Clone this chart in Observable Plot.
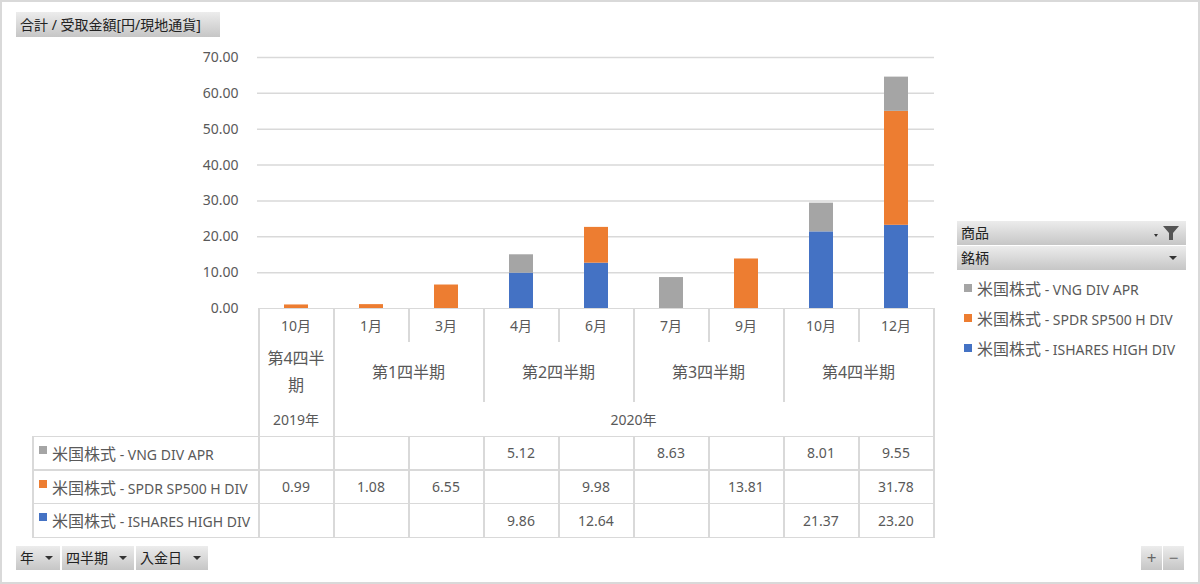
<!DOCTYPE html>
<html><head><meta charset="utf-8">
<script src="https://cdn.jsdelivr.net/npm/d3@7"></script>
<script src="https://cdn.jsdelivr.net/npm/@observablehq/plot@0.6"></script>
<style>
body{margin:0;background:#fff;}
#wrap{position:relative;width:1200px;height:584px;box-sizing:border-box;box-shadow:inset 0 0 0 2px #d9d9d9;font-family:"Noto Sans","Noto Sans CJK JP",sans-serif;color:#595959;overflow:hidden;background:#fff}
#wrap svg{position:absolute;left:0;top:0}
.btn{position:absolute;background:linear-gradient(#ececec,#c6c6c6);color:#222;font-size:14px;line-height:24px;height:24px;box-sizing:border-box;padding-left:4px;white-space:nowrap}
.arr{position:absolute;top:10px;width:0;height:0;border-left:4px solid transparent;border-right:4px solid transparent;border-top:4px solid #333}
.ln{position:absolute;background:#d9d9d9}
.cell{position:absolute;display:flex;align-items:center;justify-content:center;text-align:center;font-size:14px;line-height:27px;box-sizing:border-box;padding:0 7px}
.cell > div{line-break:anywhere;word-break:break-all;max-width:100%}
.cell.q{font-size:16px}
.rl{position:absolute;font-size:14px;white-space:nowrap;display:flex;align-items:center}
.sw{display:inline-block;width:8px;height:8px;margin-right:5px;flex:none}
.cj{font-size:16px}
</style></head>
<body><div id="wrap"></div>
<script>
// ---- data ----
const keys = ["2019-10","2020-01","2020-03","2020-04","2020-06","2020-07","2020-09","2020-10","2020-12"];
const months = ["10月","1月","3月","4月","6月","7月","9月","10月","12月"];
const quarterLabels = ["第4四半期","第1四半期","第2四半期","第3四半期","第4四半期"];
const quarterOf = [0,1,1,2,2,3,3,4,4];
const yearLabels = ["2019年","2020年"];
const yearOf = [0,1,1,1,1,1,1,1,1];
const seriesNames = ["米国株式 - VNG DIV APR","米国株式 - SPDR SP500 H DIV","米国株式 - ISHARES HIGH DIV"];
const seriesColors = ["#a5a5a5","#ed7d31","#4472c4"];
const vng     = [null,null,null,5.12,null,8.63,null,8.01,9.55];
const spdr    = [0.99,1.08,6.55,null,9.98,null,13.81,null,31.78];
const ishares = [null,null,null,9.86,12.64,null,null,21.37,23.20];
const yTicks = [10,20,30,40,50,60,70];
const tableTitle = "合計 / 受取金額[円/現地通貨]";
const filterLabels = ["年","四半期","入金日"];

const seriesValues = [vng, spdr, ishares];
// stack order bottom -> top: ISHARES, SPDR, VNG
const data = [];
[2,1,0].forEach(s => seriesValues[s].forEach((v,i) => { if (v != null) data.push({key: keys[i], series: seriesNames[s], value: v}); }));

const W = 1200, H = 584;
const padI = 0.68;
const chart = Plot.plot({
  width: W, height: H,
  marginLeft: 257, marginRight: 266, marginTop: 57, marginBottom: 276,
  style: {fontFamily: '"Noto Sans","Noto Sans CJK JP",sans-serif', fontSize: "14px", color: "#595959", background: "transparent", overflow: "visible"},
  x: {domain: keys, paddingInner: padI, paddingOuter: padI/2, axis: null},
  y: {domain: [0,70], ticks: 7, tickFormat: d => d.toFixed(2), tickSize: 0, tickPadding: 19, label: null},
  color: {domain: seriesNames, range: seriesColors},
  marks: [
    Plot.ruleY(yTicks, {stroke: "#d9d9d9", strokeWidth: 1.5}),
    Plot.barY(data, {x: "key", y: "value", fill: "series"})
  ]
});
const wrap = document.getElementById("wrap");
wrap.appendChild(chart);

const xs = chart.scale("x");
const ysc = chart.scale("y");
const step = xs.apply(keys[1]) - xs.apply(keys[0]);
const bw = xs.bandwidth != null ? xs.bandwidth : step * (1 - padI);
const off = (step - bw) / 2;
const edge = i => i < keys.length ? xs.apply(keys[i]) - off : xs.apply(keys[keys.length-1]) - off + step;
const y0 = ysc.apply(0);

const cjk = s => s.replace(/([\u3000-\u9fff\uff00-\uffef]+)/g, '<span class="cj">$1</span>');
function el(cls, css, html) {
  const d = document.createElement("div");
  d.className = cls;
  Object.assign(d.style, css);
  if (html != null) d.innerHTML = html;
  wrap.appendChild(d);
  return d;
}
const px = v => v + "px";
const cellHtml = h => `<div>${h}</div>`;
// row geometry
const monthBot = y0 + 34, quarterBot = monthBot + 60, yearBot = quarterBot + 34, rowH = 33.7;
const tableLeft = 32;
const xL = edge(0), xR = edge(keys.length);

// horizontal lines
el("ln", {left: px(xL), top: px(y0 - 0.5), width: px(xR - xL), height: "1.5px"});
for (let r = 0; r <= 3; r++) el("ln", {left: px(tableLeft), top: px(yearBot + r*rowH - 0.5), width: px(xR - tableLeft + 1), height: "1.5px"});
// vertical lines
el("ln", {left: px(tableLeft), top: px(yearBot), width: "1.5px", height: px(3*rowH)});
el("ln", {left: px(xL - 0.5), top: px(y0), width: "1.5px", height: px(yearBot + 3*rowH - y0)});
el("ln", {left: px(xR - 0.5), top: px(y0), width: "1.5px", height: px(yearBot + 3*rowH - y0)});
for (let i = 1; i < keys.length; i++) {
  const bot = yearOf[i] !== yearOf[i-1] ? yearBot + 3*rowH : quarterOf[i] !== quarterOf[i-1] ? quarterBot : monthBot;
  el("ln", {left: px(edge(i) - 0.5), top: px(y0), width: "1.5px", height: px(bot - y0)});
  el("ln", {left: px(edge(i) - 0.5), top: px(yearBot), width: "1.5px", height: px(3*rowH)});
}
// month labels
months.forEach((m, i) => el("cell", {left: px(edge(i)), top: px(y0), width: px(step), height: px(monthBot - y0)}, cellHtml(m)));
// quarter labels
quarterLabels.forEach((q, qi) => {
  const idx = quarterOf.map((v,i) => v === qi ? i : -1).filter(i => i >= 0);
  const a = edge(idx[0]), b = edge(idx[idx.length-1] + 1);
  el("cell q", {left: px(a), top: px(monthBot), width: px(b - a), height: px(quarterBot - monthBot)}, cellHtml(q));
});
// year labels
yearLabels.forEach((yl, yi) => {
  const idx = yearOf.map((v,i) => v === yi ? i : -1).filter(i => i >= 0);
  const a = edge(idx[0]), b = edge(idx[idx.length-1] + 1);
  el("cell", {left: px(a), top: px(quarterBot), width: px(b - a), height: px(yearBot - quarterBot)}, cellHtml(yl));
});
// data table rows
seriesNames.forEach((name, s) => {
  const top = yearBot + s*rowH;
  el("rl", {left: px(tableLeft + 7), top: px(top), height: px(rowH)}, `<span class="sw" style="background:${seriesColors[s]};margin-top:-6px"></span><span>${cjk(name)}</span>`);
  seriesValues[s].forEach((v, i) => {
    if (v != null) el("cell", {left: px(edge(i)), top: px(top), width: px(step), height: px(rowH)}, cellHtml(v.toFixed(2)));
  });
});

// title button
el("btn", {left: "16px", top: "12px", width: "204px", height: "25px", lineHeight: "25px"}, tableTitle);
// bottom filter buttons
const fb = [[16,44],[62,72],[136,72]];
filterLabels.forEach((t, i) => {
  const b = el("btn", {left: px(fb[i][0]), top: "546px", width: px(fb[i][1])}, t);
  const a = document.createElement("div"); a.className = "arr"; a.style.left = px(fb[i][1] - 15); b.appendChild(a);
});
// + - buttons
el("btn", {left: "1141px", top: "546px", width: "21px", padding: "0", textAlign: "center", color: "#666", fontSize: "17px"}, "+");
el("btn", {left: "1163px", top: "546px", width: "21px", padding: "0", textAlign: "center", color: "#666", fontSize: "17px"}, "−");
// right legend panel
const p1 = el("btn", {left: "957px", top: "221px", width: "229px"}, "商品");
p1.insertAdjacentHTML("beforeend", '<div class="arr" style="left:197px;top:13px;border-width:3px 2.5px 0 2.5px"></div><svg style="position:absolute;left:205px;top:4px" width="18" height="16"><polygon points="1,1 17,1 11,8 11,15 7,15 7,8" fill="#555"/></svg>');
const p2 = el("btn", {left: "957px", top: "246px", width: "229px"}, "銘柄");
p2.insertAdjacentHTML("beforeend", '<div class="arr" style="left:212px"></div>');
seriesNames.forEach((name, s) => {
  el("rl", {left: "964px", top: px(275 + s*30), height: "26px"}, `<span class="sw" style="background:${seriesColors[s]}"></span><span>${cjk(name)}</span>`);
});
</script></body></html>
